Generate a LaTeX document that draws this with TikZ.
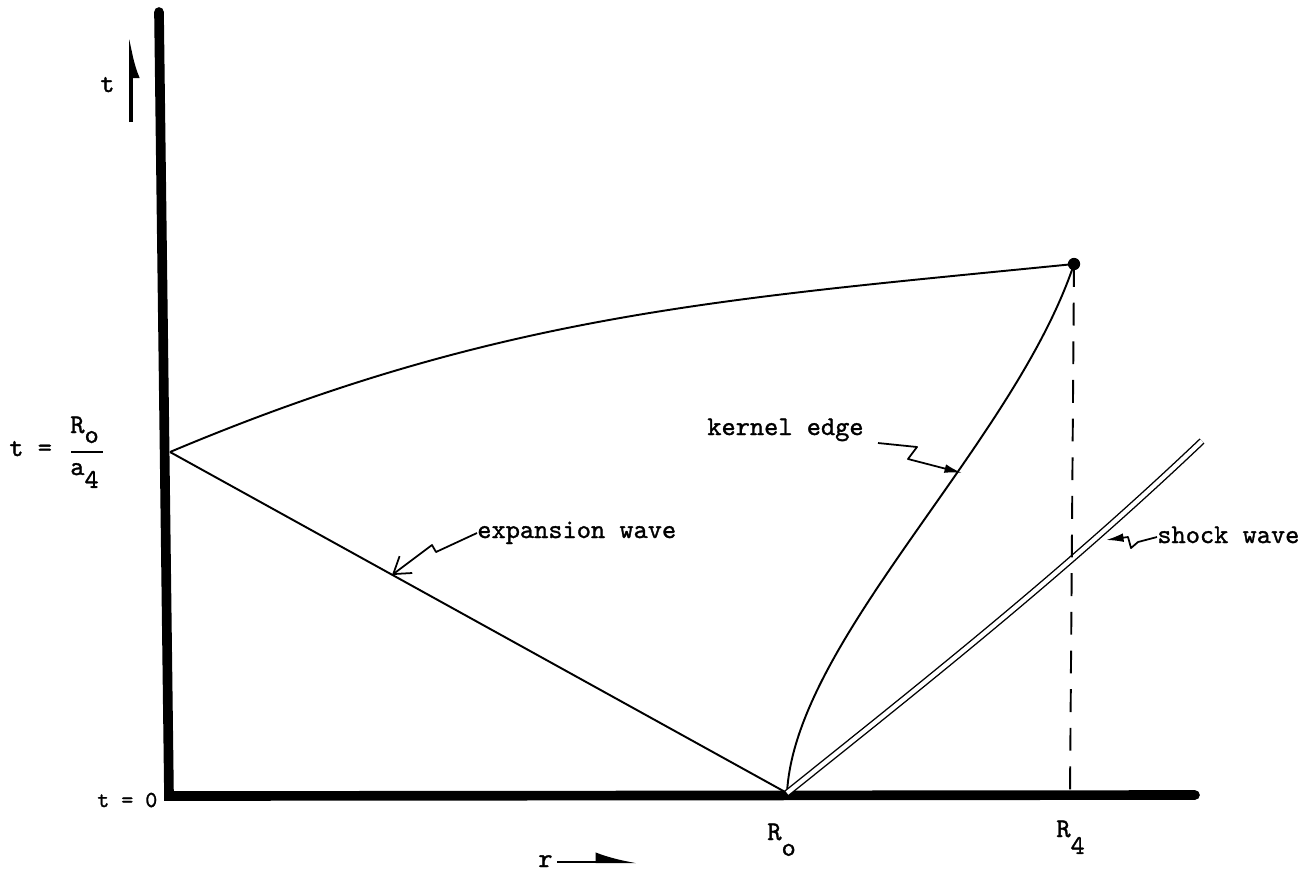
\documentclass[tikz,border=0pt]{standalone}
\usepackage{fontspec}
\newfontfamily\typefont{lmmono10-regular}[Extension=.otf, FakeBold=1.2]
\usetikzlibrary{arrows.meta, positioning}
\newcommand{\lowsub}[2][1.1ex]{\raisebox{-#1}{#2}}

\begin{document}
\begin{tikzpicture}[
    x=0.02cm, y=-0.02cm,
    axis/.style={line width=5.5pt, line cap=round, line join=miter},
    wave/.style={line width=1.1pt},
    shock/.style={double, double distance=2.4pt, line width=0.8pt},
    dashline/.style={line width=1.1pt, dash pattern=on 13pt off 9pt},
    leader/.style={line width=1pt, line join=round},
    harp/.style={line width=2pt},
    lbl/.style={font=\typefont\fontsize{15.4}{18}\selectfont, inner sep=0pt},
]
    \path[fill=white, use as bounding box] (0,0) rectangle (1311,880);

    % Axes
    \coordinate (top) at (159,12);
    \coordinate (corner) at (169,796);
    \coordinate (rend) at (1195,795);
    \draw[axis] (top) -- (corner) -- (rend);

    % Key points
    \coordinate (tR) at (170,452);
    \coordinate (Ro) at (787,793);
    \coordinate (top4) at (1074,264);
    \coordinate (R4) at (1070,795);
    \coordinate (shk) at (1202,441);

    % Expansion wave and upper edge
    \draw[wave] (tR) -- (Ro);
    \draw[wave] (tR) .. controls (500,313) and (724,299) .. (top4);

    % Kernel edge
    \draw[wave] (Ro) .. controls (795,640) and (1014,444) .. (top4);

    % Shock wave
    \draw[shock] (Ro) .. controls (928,680) and (1062,574) .. (shk);

    % R_4 marker
    \fill (top4) circle (3.5pt);
    \draw[dashline] (top4) -- (R4);

    % Axis labels
    \node[lbl, anchor=base west] (tlab) at (100,92) {t};
    \coordinate (tA) at (131,122);
    \coordinate (tB) at (131,37);
    \draw[harp, -{Latex[harpoon, swap, length=18pt, width=10pt]}] (tA) -- (tB);

    \node[lbl, anchor=base west] (rlab) at (538,867) {r};
    \coordinate (rA) at (557,862);
    \coordinate (rB) at (637,862);
    \draw[line width=1.3pt, -{Latex[harpoon, length=20pt, width=11pt]}] (rA) -- (rB);

    \node[lbl, anchor=base west] (teq) at (9,456) {t =};
    \node[lbl, anchor=base west] (fnum) at (70,433) {R\lowsub[0.85ex]{o}};
    \node[lbl, anchor=base west] (fden) at (70,475) {a\lowsub[1.1ex]{4}};
    \coordinate (barL) at (71,452);
    \coordinate (barR) at (103,452);
    \draw[line width=1.1pt] (barL) -- (barR);
    \node[lbl, anchor=base west, font=\typefont\fontsize{13}{15}\selectfont] (tzero) at (97,807) {t = 0};

    \node[lbl, anchor=base west] (Rolab) at (767,840) {R\lowsub[1.35ex]{o}};
    \node[lbl, anchor=base west] (R4lab) at (1056,837) {R\lowsub[1.45ex]{4}};

    % Wave labels
    \node[lbl, anchor=base west] (explab) at (477,538) {expansion wave};
    \node[lbl, anchor=base west] (kerlab) at (707,435) {kernel edge};
    \node[lbl, anchor=base west] (shklab) at (1157,543) {shock wave};

    \coordinate (eA) at (477,533);
    \coordinate (eB) at (436,552);
    \coordinate (eC) at (432,545);
    \coordinate (eD) at (392,575);
    \draw[leader, -{Straight Barb[length=9pt, width=12pt]}] (eA) -- (eB) -- (eC) -- (eD);

    \coordinate (kA) at (878,443);
    \coordinate (kB) at (917,447);
    \coordinate (kC) at (908,459);
    \coordinate (kD) at (962,473);
    \draw[leader, -{Latex[length=10pt, width=5pt]}] (kA) -- (kB) -- (kC) -- (kD);

    \coordinate (sA) at (1157,537);
    \coordinate (sB) at (1138,542);
    \coordinate (sC) at (1131,548);
    \coordinate (sD) at (1128,537);
    \coordinate (sE) at (1106,540);
    \draw[leader, -{Latex[length=10pt, width=5pt]}] (sA) -- (sB) -- (sC) -- (sD) -- (sE);
\end{tikzpicture}
\end{document}
